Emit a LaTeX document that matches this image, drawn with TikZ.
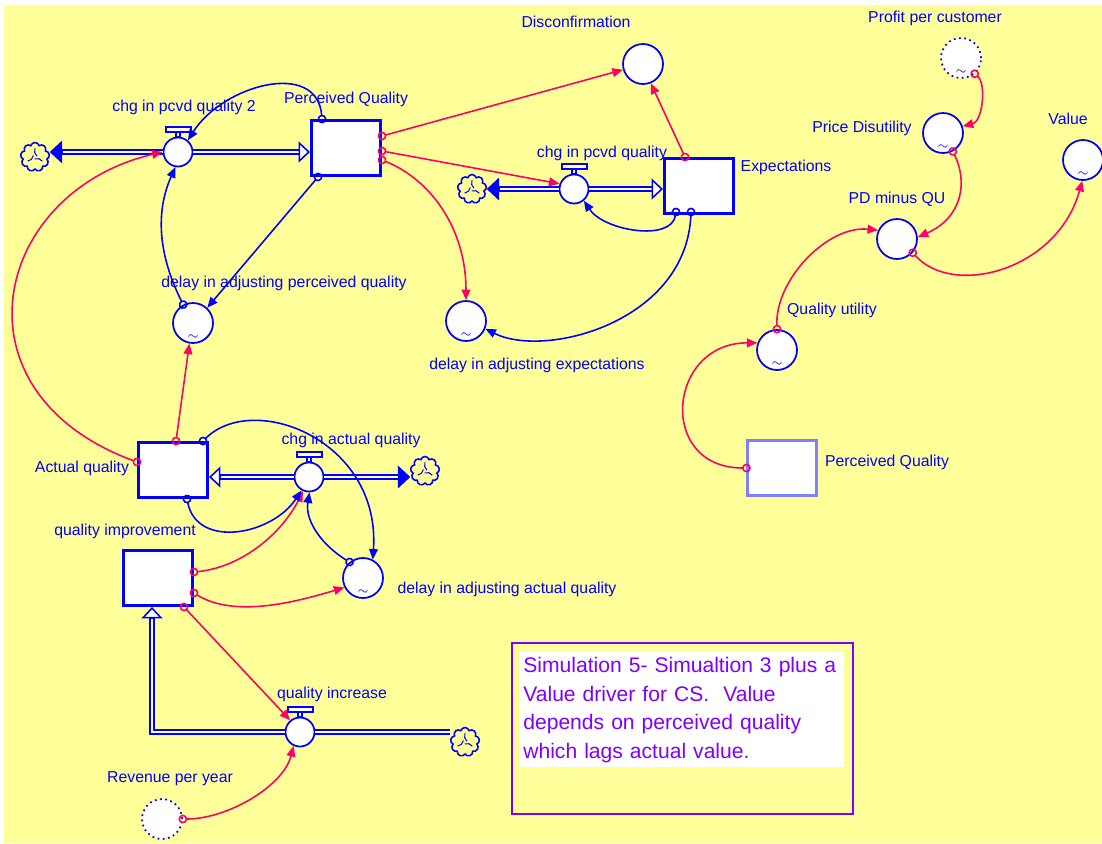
\documentclass[tikz,border=0pt]{standalone}
\usepackage{fontspec}
\setmainfont{Liberation Sans}
\usetikzlibrary{arrows.meta, shapes.symbols}
\definecolor{padyellow}{HTML}{FFFF99}
\definecolor{sdblue}{HTML}{0000FF}
\definecolor{lkpink}{HTML}{FF0066}
\definecolor{ghostblue}{HTML}{8080FF}
\definecolor{notepurple}{HTML}{8000FF}

\begin{document}
\begin{tikzpicture}[
  x=0.02cm, y=-0.02cm,
  every node/.style={font=\fontsize{9}{11}\selectfont},
  lbl/.style={text=sdblue, inner sep=1pt},
  stock/.style={
    draw=sdblue, line width=1.7pt, fill=white,
    minimum width=1.38cm, minimum height=1.1cm, inner sep=0pt
  },
  ghost/.style={stock, draw=ghostblue, line width=1.2pt},
  aux/.style={circle, draw=sdblue, line width=1pt, fill=white,
    minimum size=0.8cm, inner sep=0pt},
  gf/.style={aux, path picture={
    \node[text=sdblue, font=\scriptsize, inner sep=0pt]
      at ([yshift=3.5pt]path picture bounding box.south) {$\sim$};}},
  extern/.style={aux, dotted},
  valve/.style={circle, draw=sdblue, line width=1pt, fill=white,
    minimum size=0.58cm, inner sep=0pt},
  cloudsrc/.style={cloud, cloud puffs=9, aspect=1, draw=sdblue,
    line width=0.9pt, minimum width=0.58cm, minimum height=0.58cm, inner sep=0pt,
    path picture={
      \foreach \a in {20,140,260}
        \draw[sdblue, line width=0.6pt]
          ([shift={(\a:1.2pt)}]path picture bounding box.center)
          to[bend left=35] ([shift={(\a+70:4.8pt)}]path picture bounding box.center);}},
  pipe/.style={draw=sdblue, line width=1.1pt, double=white, double distance=1pt},
  fulltip/.style={sdblue, line width=0.6pt, -{Triangle[length=7pt, width=13pt]}},
  hollowtip/.style={sdblue, line width=0.9pt, -{Triangle[length=6.5pt, width=12pt, fill=white]}},
  link/.style={lkpink, line width=0.9pt,
    {Circle[open, length=5pt]}-{Triangle[length=6pt, width=5pt]}, shorten <=-2.5pt},
  blink/.style={link, sdblue},
  notebox/.style={draw=notepurple, line width=1.4pt,
    minimum width=6.82cm, minimum height=3.42cm},
  notetext/.style={fill=white, text=notepurple, font=\fontsize{12}{16.2}\selectfont,
    align=left, text width=6.36cm, inner xsep=0.06cm, inner ysep=2pt,
    minimum height=2.3cm, anchor=north west},
]

% Background
\useasboundingbox (0,0) rectangle (1102,843);
\fill[white] (0,0) rectangle (1102,843);
\fill[padyellow] (4,5) rectangle (1102,843);

% =============================================
% Stocks
% =============================================
\node[stock] (pq) at (346,148) {};
\node[stock] (ex) at (699,186) {};
\node[stock] (aq) at (173,470) {};
\node[stock] (qi) at (158,578) {};
\node[ghost] (pqg) at (782,468) {};

% =============================================
% Flows and clouds
% =============================================
\node[valve] (cpqtwo) at (178,152) {};
\node[valve] (cpq) at (574,189) {};
\node[valve] (caq) at (309,477) {};
\node[valve] (qinc) at (300,732) {};

\node[cloudsrc] (cl1) at (35,157) {};
\node[cloudsrc] (cl2) at (472,189) {};
\node[cloudsrc] (cl3) at (425,471) {};
\node[cloudsrc] (cl4) at (465,742) {};

% valve handles
\foreach \v in {cpqtwo,cpq,caq,qinc}{
  \draw[sdblue, line width=0.8pt, fill=white]
    ([shift={(-2,-5)}]\v.north) rectangle ([shift={(2,0)}]\v.north);
  \draw[sdblue, line width=1pt, fill=white]
    ([shift={(-12,-10)}]\v.north) rectangle ([shift={(13,-5)}]\v.north);
}

% =============================================
% Converters
% =============================================
\node[aux] (disc) at (643,64) {};
\node[gf] (dapq) at (193,323) {};
\node[gf] (dae) at (466,321) {};
\node[gf] (daaq) at (363,578) {};
\node[extern, gf] (ppc) at (961,58) {};
\node[gf] (pdu) at (943,133) {};
\node[gf] (val) at (1083,160) {};
\node[aux] (pdmqu) at (897,239) {};
\node[gf] (qu) at (777,350) {};
\node[extern] (rpy) at (162,819) {};

% =============================================
% Labels
% =============================================
\node[lbl] (pqlbl) at (346,99) {Perceived Quality};
\node[lbl] (cpqtwolbl) at (184,107) {chg in pcvd quality 2};
\node[lbl] (disclbl) at (576,22) {Disconfirmation};
\node[lbl] (cpqlbl) at (602,153) {chg in pcvd quality};
\node[lbl] (exlbl) at (786,167) {Expectations};
\node[lbl] (dapqlbl) at (284,283) {delay in adjusting perceived quality};
\node[lbl] (daelbl) at (537,365) {delay in adjusting expectations};
\node[lbl] (caqlbl) at (351,440) {chg in actual quality};
\node[lbl] (aqlbl) at (82,468) {Actual quality};
\node[lbl] (qilbl) at (125,531) {quality improvement};
\node[lbl] (daaqlbl) at (507,589) {delay in adjusting actual quality};
\node[lbl] (qinclbl) at (332,694) {quality increase};
\node[lbl] (rpylbl) at (170,779) {Revenue per year};
\node[lbl] (ppclbl) at (935,18) {Profit per customer};
\node[lbl] (pdulbl) at (862,128) {Price Disutility};
\node[lbl] (vallbl) at (1068,119) {Value};
\node[lbl] (pdmqulbl) at (897,199) {PD minus QU};
\node[lbl] (qulbl) at (832,310) {Quality utility};
\node[lbl] (pqglbl) at (887,462) {Perceived Quality};

% =============================================
% Pipes
% =============================================
\coordinate (cpqtwoL) at (cpqtwo -| cl1.east);
\coordinate (cpqtwoR) at (cpqtwo -| pq.west);
\draw[pipe] (cpqtwo.west) -- ([xshift=7pt]cpqtwoL);
\draw[pipe] (cpqtwo.east) -- ([xshift=-6.5pt]cpqtwoR);
\draw[fulltip] ([xshift=7pt]cpqtwoL) -- (cpqtwoL);
\draw[hollowtip] ([xshift=-6.5pt]cpqtwoR) -- (cpqtwoR);

\coordinate (cpqL) at (cpq -| cl2.east);
\coordinate (cpqR) at (cpq -| ex.west);
\draw[pipe] (cpq.west) -- ([xshift=7pt]cpqL);
\draw[pipe] (cpq.east) -- ([xshift=-6.5pt]cpqR);
\draw[fulltip] ([xshift=7pt]cpqL) -- (cpqL);
\draw[hollowtip] ([xshift=-6.5pt]cpqR) -- (cpqR);

\coordinate (caqL) at (caq -| aq.east);
\coordinate (caqR) at (caq -| cl3.west);
\draw[pipe] (caq.west) -- ([xshift=6.5pt]caqL);
\draw[pipe] (caq.east) -- ([xshift=-7pt]caqR);
\draw[hollowtip] ([xshift=6.5pt]caqL) -- (caqL);
\draw[fulltip] ([xshift=-7pt]caqR) -- (caqR);

\coordinate (qincR) at (qinc -| cl4.west);
\coordinate (qiB) at ([shift={(-6,0)}]qi.south);
\draw[pipe] (qinc.east) -- (qincR);
\draw[pipe] (qinc.west) -| ([yshift=-6.5pt]qiB);
\draw[hollowtip] ([yshift=-6.5pt]qiB) -- (qiB);

% =============================================
% Connectors
% =============================================
\draw[link] ([shift={(0,-12)}]pq.east) -- (disc.196);
\draw[link] ([shift={(0,3)}]pq.east) -- (cpq.160);
\draw[link] ([shift={(0,12)}]pq.east) .. controls +(50,20) and +(0,-70) .. (dae.north);
\draw[link] ([shift={(-14,0)}]ex.north) -- (disc.-68);
\draw[link] ([shift={(0,-8)}]aq.west) .. controls +(-190,-70) and +(-170,40) .. (cpqtwo.west);
\draw[link] ([shift={(3,0)}]aq.north) -- (dapq.-100);
\draw[link] ([shift={(0,-6)}]qi.east) .. controls +(50,-5) and +(-20,40) .. (caq.-113);
\draw[link] ([shift={(0,15)}]qi.east) .. controls +(40,25) and +(-50,15) .. (daaq.207);
\draw[link] ([shift={(-10,0)}]qi.south east) -- (qinc.130);
\draw[link] (rpy.east) .. controls +(45,0) and +(-10,40) .. (qinc.-115);
\draw[link] (ppc.-49) .. controls +(12,10) and +(20,-5) .. (pdu.19);
\draw[link] (pdu.-62) .. controls +(15,30) and +(45,-20) .. (pdmqu.5);
\draw[link] (pdmqu.-41) .. controls +(40,45) and +(-25,90) .. (val.-92);
\draw[link] (qu.north) .. controls +(-2,-50) and +(-50,-5) .. (pdmqu.155);
\draw[link] (pqg.west) .. controls +(-90,0) and +(-90,0) .. (qu.160);

\draw[blink] ([shift={(12,0)}]pq.north west) .. controls +(-5,-60) and +(35,-55) .. (cpqtwo.50);
\draw[blink] ([shift={(8,0)}]pq.south west) -- (dapq.47);
\draw[blink] (dapq.118) .. controls +(-25,-50) and +(-20,45) .. (cpqtwo.-100);
\draw[blink] ([shift={(13,-3)}]ex.south west) .. controls +(-5,30) and +(20,30) .. (cpq.-50);
\draw[blink] ([shift={(28,-3)}]ex.south west) .. controls +(-5,110) and +(60,30) .. (dae.-22);
\draw[blink] ([shift={(-6,0)}]aq.north east) .. controls +(50,-50) and +(8,-120) .. (daaq.62);
\draw[blink] ([shift={(-22,0)}]aq.south east) .. controls +(10,50) and +(-30,45) .. (caq.-119);
\draw[blink] (daaq.130) .. controls +(-25,-15) and +(-5,30) .. (caq.-88);

% =============================================
% Note
% =============================================
\node[notebox] (frame) at (682.5,728.5) {};
\node[notetext] (note) at (520,652)
  {Simulation 5- Simualtion 3 plus a\\
   Value driver for CS.\ \ Value\\
   depends on perceived quality\\
   which lags actual value.};

\end{tikzpicture}
\end{document}
